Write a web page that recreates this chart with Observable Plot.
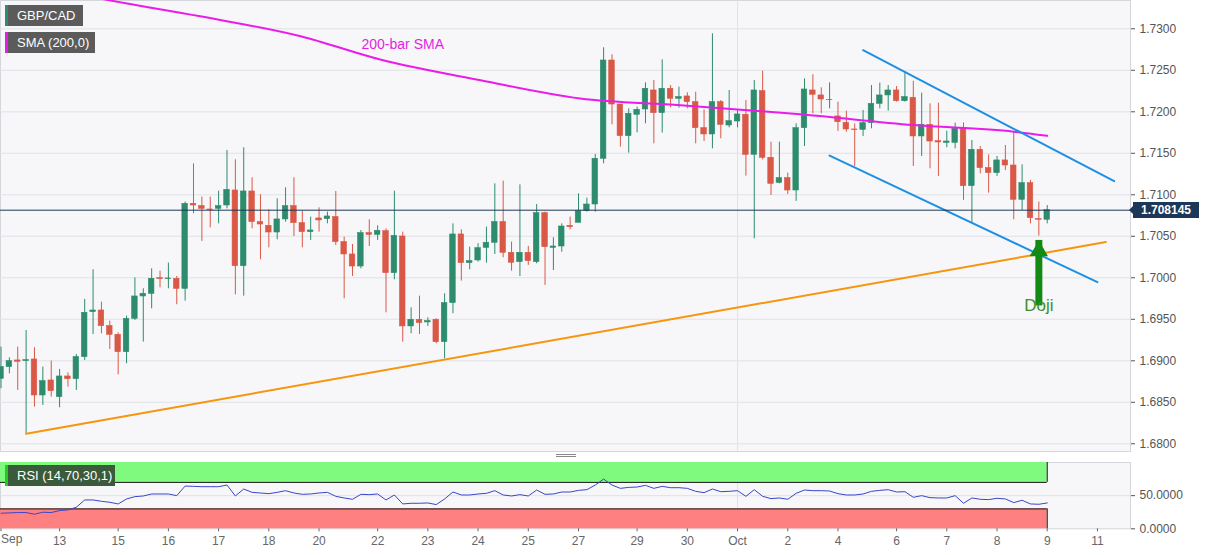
<!DOCTYPE html>
<html><head><meta charset="utf-8">
<script src="https://cdn.jsdelivr.net/npm/d3@7"></script>
<script src="https://cdn.jsdelivr.net/npm/@observablehq/plot@0.6"></script>
<style>
body{margin:0;background:#fff;font-family:Arial,"Liberation Sans",sans-serif;}
#wrap{position:relative;width:1207px;height:555px;overflow:hidden;background:#fff;}
#main{position:absolute;left:0;top:0;}
#rsi{position:absolute;left:0;top:455px;}
.tag{position:absolute;color:#fff;font-size:13px;line-height:21px;height:21px;box-sizing:border-box;padding-left:9px;white-space:nowrap;}
#price{position:absolute;left:1133px;width:66px;height:16px;line-height:16px;background:#1c3758;color:#fff;font-size:12px;font-weight:bold;text-align:center;}
#price:before{content:"";position:absolute;left:-4px;top:4px;border-right:4px solid #1c3758;border-top:4px solid transparent;border-bottom:4px solid transparent;}
.grip{position:absolute;left:556px;width:20px;height:1px;background:#888;}
</style></head><body>
<div id="wrap"><div id="main"></div><div id="rsi"></div></div>
<script>
// ---- data (4-hour bars, index 0..125) ----
const opens=[1.68783,1.68924,1.69004,1.68996,1.69016,1.68582,1.68763,1.68562,1.68811,1.68779,
1.69044,1.69586,1.69606,1.69418,1.69313,1.69104,1.69506,1.69775,1.69807,1.69996,
1.69984,1.69988,1.69867,1.70891,1.70863,1.70823,1.70831,1.70871,1.71052,1.70140,
1.71040,1.70671,1.70626,1.70546,1.70703,1.70863,1.70659,1.70550,1.70715,1.70707,
1.70731,1.70430,1.70281,1.70136,1.70538,1.70518,1.70562,1.70056,1.70498,1.69414,
1.69494,1.69462,1.69494,1.69225,1.69695,1.70522,1.70177,1.70209,1.70361,1.70422,
1.70671,1.70301,1.70189,1.70301,1.70189,1.70779,1.70361,1.70377,1.70626,1.70663,
1.70803,1.70883,1.71434,1.72618,1.72088,1.71707,1.71964,1.72028,1.72257,1.71984,
1.72277,1.72157,1.72185,1.72116,1.71803,1.71727,1.72116,1.71835,1.71883,1.71964,
1.71482,1.72249,1.71446,1.71144,1.71201,1.71052,1.71803,1.72257,1.72197,1.72140,
1.71944,1.71867,1.71787,1.71783,1.71863,1.72096,1.72197,1.72257,1.72128,1.72169,
1.71703,1.71843,1.71646,1.71626,1.71626,1.71795,1.71104,1.71542,1.71321,1.71261,
1.71414,1.71353,1.70940,1.71140,1.70707,1.70699];
const highs=[1.69165,1.69036,1.69165,1.69365,1.69157,1.68924,1.68996,1.68896,1.68855,1.69076,
1.69739,1.70096,1.69707,1.69478,1.69337,1.69538,1.69999,1.69867,1.70108,1.70080,
1.70177,1.70016,1.70912,1.71373,1.70972,1.70972,1.71044,1.71534,1.71422,1.71566,
1.71205,1.71000,1.70819,1.70952,1.71084,1.71205,1.70803,1.70731,1.70843,1.70791,
1.71040,1.70490,1.70401,1.70570,1.70699,1.70626,1.70590,1.71044,1.70550,1.69638,
1.69779,1.69518,1.69506,1.69807,1.70650,1.70578,1.70369,1.70410,1.70610,1.71132,
1.71165,1.70430,1.71120,1.70377,1.70883,1.70791,1.70482,1.70650,1.70731,1.71012,
1.70960,1.71486,1.72771,1.72687,1.72088,1.72036,1.72056,1.72349,1.72377,1.72626,
1.72317,1.72297,1.72229,1.72237,1.72024,1.72940,1.72136,1.72257,1.72016,1.72136,
1.72377,1.72490,1.71634,1.71634,1.71261,1.71855,1.72397,1.72446,1.72289,1.72349,
1.72116,1.72008,1.71855,1.72016,1.72317,1.72345,1.72317,1.72305,1.72478,1.72369,
1.72225,1.72096,1.72104,1.71767,1.71863,1.71867,1.71655,1.71582,1.71482,1.71462,
1.71594,1.71755,1.71361,1.71173,1.70912,1.70871];
const lows=[1.68663,1.68843,1.68643,1.68120,1.68442,1.68462,1.68562,1.68434,1.68683,1.68643,
1.69004,1.69317,1.69325,1.69136,1.68831,1.68964,1.69486,1.69225,1.69626,1.69879,
1.69867,1.69675,1.69719,1.70771,1.70438,1.70602,1.70650,1.70831,1.69795,1.69779,
1.70590,1.70217,1.70361,1.70458,1.70671,1.70498,1.70361,1.70450,1.70550,1.70650,
1.70389,1.69747,1.70016,1.70108,1.70377,1.70450,1.69578,1.69976,1.69225,1.69325,
1.69317,1.69414,1.69205,1.69024,1.69566,1.69960,1.70096,1.70189,1.70177,1.70281,
1.70241,1.70080,1.70016,1.70149,1.70169,1.69908,1.70088,1.70309,1.70578,1.70663,
1.70791,1.70791,1.71373,1.71843,1.71574,1.71502,1.71747,1.71855,1.71614,1.71743,
1.72048,1.72044,1.72036,1.71614,1.71642,1.71554,1.71675,1.71807,1.71807,1.71225,
1.70470,1.71420,1.70992,1.71132,1.71004,1.70920,1.71582,1.71976,1.71976,1.72036,
1.71763,1.71755,1.71341,1.71703,1.71795,1.72036,1.72008,1.72116,1.72116,1.71341,
1.71462,1.71313,1.71221,1.71566,1.71554,1.70932,1.70663,1.71253,1.71020,1.71221,
1.71293,1.70699,1.70811,1.70650,1.70502,1.70650];
const closes=[1.68924,1.68996,1.68988,1.69008,1.68582,1.68755,1.68634,1.68811,1.68779,1.69044,
1.69578,1.69606,1.69418,1.69313,1.69104,1.69506,1.69775,1.69807,1.69988,1.69984,
1.69992,1.69867,1.70891,1.70871,1.70831,1.70815,1.70863,1.71060,1.70140,1.71040,
1.70671,1.70642,1.70546,1.70703,1.70863,1.70659,1.70550,1.70570,1.70691,1.70739,
1.70430,1.70281,1.70136,1.70538,1.70518,1.70566,1.70056,1.70506,1.69414,1.69494,
1.69454,1.69478,1.69225,1.69695,1.70522,1.70177,1.70201,1.70357,1.70422,1.70671,
1.70301,1.70181,1.70301,1.70201,1.70779,1.70369,1.70377,1.70618,1.70610,1.70803,
1.70883,1.71434,1.72618,1.72088,1.71707,1.71976,1.72024,1.72277,1.71984,1.72277,
1.72157,1.72177,1.72116,1.71803,1.71727,1.72116,1.71843,1.71887,1.71968,1.71482,
1.72257,1.71446,1.71132,1.71201,1.71052,1.71803,1.72269,1.72205,1.72148,1.72144,
1.71875,1.71787,1.71779,1.71863,1.72096,1.72197,1.72257,1.72128,1.72177,1.71703,
1.71843,1.71642,1.71630,1.71642,1.71795,1.71104,1.71542,1.71321,1.71261,1.71414,
1.71353,1.70940,1.71140,1.70719,1.70699,1.708145];
const rsiValues=[23.5,24,24.5,24.5,22,25,24.5,27.5,28.5,32.5,43.5,43.5,41.5,40,37.5,45,48.5,49.5,52.5,52.5,
52.5,50,64.5,64,63.5,63.5,63.5,66,49.5,60,55,54,53,55,57.5,54,
52,52.5,54,55,49,46.5,44.5,52,51.5,52.5,43.5,51,37.5,38.5,38.5,39,36.5,45,55.5,51,51,52.5,53.5,57.5,
51,49.5,51.5,49.5,58.5,52,52.5,55.5,55.5,58,59,66,
75,66,61,62.5,63,65.5,61,64,62,62,61,56.5,54.5,60,56,56.5,57.5,49,59,49,45.5,46.5,44.5,53.5,
58.5,57.5,57.5,57,53,51,51,52.5,56.5,58,59,55.5,
56,47.5,50,47,46.5,46.5,50,38.5,46.5,44.5,44,46,45,39.5,43,37.5,37,39];
const smaBars=[0,13.1,23.8,35.8,45.3,57.3,69.2,81.2,89.2,95.5,109,121,125];
const smaValues=[1.7361,1.7334,1.7315,1.7291,1.7263,1.7238,1.7216,1.7208,1.7202,1.7197,1.7184,1.7176,1.7171];
const priceTicks=[1.68,1.685,1.69,1.695,1.70,1.705,1.71,1.715,1.72,1.725,1.73];
const rsiTicks=[0,50];
const rsiBands=[{lo:70,hi:100,fill:"#80f97f"},{lo:0,hi:30,fill:"#ff8080"}];
const dateLabels=["Sep","13","15","16","17","18","20","22","23","24","25","27","29","30","Oct","2","4","6","7","8","9","11"];
const dateBars=[0,7,14,20,26,32,38,45,51,57,63,69,76,82,88,94,100,107,113,119,125,131];
const monthBars=[88];
const lastPrice=1.708145;
const supportLine=[{bar:3,price:1.6812},{bar:132,price:1.7043}];
const channelTop=[{bar:103,price:1.72742},{bar:133,price:1.71164}];
const channelBottom=[{bar:99,price:1.71473},{bar:131,price:1.69947}];
const dojiNote=[{bar:124,tip:1.7045,tail:1.6983,label:1.69665,text:"Doji"}];
const smaNote=[{bar:48,price:1.7281,text:"200-bar SMA"}];

// ---- build ----
const W=1207, xDomain=[-0.06,134.95];
const GREEN="#2d8c6d", RED="#d95846";
const candles=opens.map((o,i)=>({i,o,h:highs[i],l:lows[i],c:closes[i],col:closes[i]>=o?GREEN:RED}));
const sma=smaBars.map((b,k)=>({bar:b,v:smaValues[k]}));
const fmt=d3.format(".4f");
const font="Arial, 'Liberation Sans', sans-serif";

const main=Plot.plot({
  width:W,height:455,marginLeft:0,marginRight:77,marginTop:0,marginBottom:4,
  x:{domain:xDomain,axis:null},
  y:{domain:[1.67907,1.73341],axis:null},
  color:{type:"identity"},
  style:{fontFamily:font,background:"transparent",overflow:"visible"},
  marks:[
    Plot.frame({fill:"#f7f7f9",stroke:"#d3d6db"}),
    Plot.gridY(priceTicks,{stroke:"#e0e2e6",strokeOpacity:1}),
    Plot.ruleX(monthBars,{stroke:"#e0e2e6"}),
    Plot.axisY(priceTicks,{anchor:"right",tickFormat:fmt,tickSize:4,tickPadding:5,fontSize:12,color:"#555"}),
    Plot.ruleX(candles,{x:"i",y1:"l",y2:"h",stroke:"col",strokeWidth:1}),
    Plot.rect(candles,{x1:d=>d.i-0.33,x2:d=>d.i+0.33,y1:"o",y2:"c",fill:"col",stroke:"col",strokeWidth:0.6}),
    Plot.line(sma,{x:"bar",y:"v",stroke:"#ea1ce9",strokeWidth:2,curve:"monotone-x",clip:true}),
    Plot.line(supportLine,{x:"bar",y:"price",stroke:"#f7950d",strokeWidth:2}),
    Plot.line(channelTop,{x:"bar",y:"price",stroke:"#1e90e4",strokeWidth:2}),
    Plot.line(channelBottom,{x:"bar",y:"price",stroke:"#1e90e4",strokeWidth:2}),
    Plot.ruleY([lastPrice],{stroke:"#1c3758",strokeWidth:1}),
    Plot.text(smaNote,{x:"bar",y:"price",text:"text",fill:"#e31fe0",fontSize:14}),
    Plot.ruleX(dojiNote,{x:"bar",y1:"tail",y2:"tip",stroke:"#138a13",strokeWidth:7,insetTop:14}),
    Plot.dot(dojiNote,{x:"bar",y:"tip",symbol:"triangle",r:6.8,fill:"#138a13",dy:10.5}),
    Plot.text(dojiNote,{x:"bar",y:"label",text:"text",fill:"#3f8f2a",fontSize:17})
  ]
});
document.getElementById("main").appendChild(main);

const rsi=Plot.plot({
  width:W,height:100,marginLeft:0,marginRight:77,marginTop:7,marginBottom:26.7,
  x:{domain:xDomain,axis:null},
  y:{domain:[0,100],axis:null},
  color:{type:"identity"},
  style:{fontFamily:font,background:"transparent",overflow:"visible"},
  marks:[
    Plot.frame({fill:"#f7f7f9",stroke:"#d3d6db"}),
    Plot.ruleY([50],{stroke:"#e0e2e6"}),
    Plot.ruleX(monthBars,{stroke:"#e0e2e6"}),
    Plot.rect(rsiBands,{x1:()=>xDomain[0],x2:()=>candles.length-1,y1:"lo",y2:"hi",fill:"fill"}),
    Plot.ruleY([70,30],{x1:()=>xDomain[0],x2:()=>candles.length-1,stroke:"#111",strokeWidth:1}),
    Plot.ruleX(rsiBands,{x:()=>candles.length-1,y1:"lo",y2:"hi",stroke:"#111"}),
    Plot.line(rsiValues,{x:(d,i)=>i,y:d=>d,stroke:"#3a46c8",strokeWidth:1}),
    Plot.axisY(rsiTicks,{anchor:"right",tickFormat:fmt,tickSize:4,tickPadding:5,fontSize:12,color:"#555"}),
    Plot.axisX(dateBars,{anchor:"bottom",tickSize:3,tickPadding:5,fontSize:12,color:"#666",
      tickFormat:d=>d===0?"":dateLabels[dateBars.indexOf(d)]}),
    Plot.text([dateBars[0]],{x:d=>d,frameAnchor:"bottom",dy:14,text:()=>dateLabels[0],textAnchor:"start",fontSize:12,fill:"#666"})
  ]
});
document.getElementById("rsi").appendChild(rsi);

// ---- overlays ----
const wrap=document.getElementById("wrap");
function tag(text,left,top,w,bg,accent){
  const d=document.createElement("div");d.className="tag";d.textContent=text;
  d.style.left=left+"px";d.style.top=top+"px";d.style.width=w+"px";
  d.style.background=bg;d.style.borderLeft="3px solid "+accent;wrap.appendChild(d);
}
tag("GBP/CAD",5,5,78,"#5b5b5b","#2d8c6d");
tag("SMA (200,0)",5,32,90,"#5b5b5b","#e01fe0");
tag("RSI (14,70,30,1)",5,465,110,"#3b5a3b","#22cc22");
const py=main.scale("y").apply(lastPrice);
const p=document.createElement("div");p.id="price";p.textContent=lastPrice.toFixed(6);
p.style.top=(py-8)+"px";wrap.appendChild(p);
[454,456].forEach(t=>{const g=document.createElement("div");g.className="grip";g.style.top=t+"px";wrap.appendChild(g);});
</script>
</body></html>
